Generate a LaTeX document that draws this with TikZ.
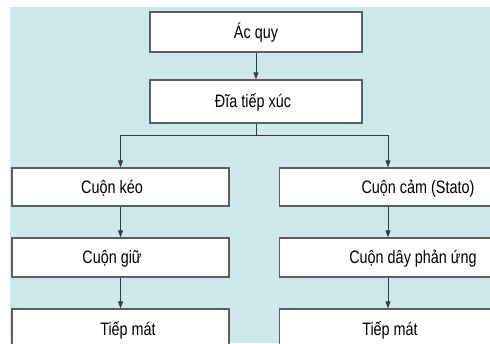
\documentclass[tikz,border=0pt]{standalone}
\usepackage{fontspec}
\setmainfont{Liberation Sans}[FakeStretch=0.8]
\usetikzlibrary{arrows.meta}

\definecolor{bgcyan}{HTML}{CDE9EC}
\definecolor{boxgray}{HTML}{5E5E5E}
\definecolor{linegray}{HTML}{3A3A3A}

\tikzset{
  box/.style={draw=boxgray,line width=1.3pt,fill=white,inner sep=0pt,minimum width=217pt},
  txt/.style={font=\fontsize{18}{20}\selectfont,text height=12.9pt,text depth=0pt,inner sep=0pt},
  arr/.style={draw=linegray,line width=0.9pt,-{Triangle[length=7pt,width=5pt]}}
}

\begin{document}
\begin{tikzpicture}[x=1pt,y=-1pt]
\clip (0,0) rectangle (490,343);
\fill[bgcyan] (10,7) rectangle (490,343);
% top
\node[box,minimum width=212pt,minimum height=40pt,label={[txt]center:Ác quy}] (acquy) at (256,32) {};
\node[box,minimum width=212pt,minimum height=43pt,label={[txt,xshift=-3pt]center:Đĩa tiếp xúc}] (dia) at (256,101.5) {};
% left column
\node[box,minimum height=38pt,label={[txt,xshift=-8.5pt]center:Cuộn kéo}] (keo) at (120.5,187) {};
\node[box,minimum height=39pt,label={[txt,xshift=-8.5pt]center:Cuộn giữ}] (giu) at (120.5,257.5) {};
\node[box,minimum height=40pt,label={[txt,xshift=7.5pt]center:Tiếp mát}] (matL) at (120.5,329) {};
% right column
\node[box,minimum height=38pt,label={[txt,xshift=30pt]center:Cuộn cảm (Stato)}] (cam) at (388,187) {};
\node[box,minimum height=39pt,label={[txt,xshift=25pt]center:Cuộn dây phản ứng}] (day) at (388,257.5) {};
\node[box,minimum height=40pt,label={[txt,xshift=2pt]center:Tiếp mát}] (matR) at (388,329) {};
% connectors
\coordinate (split) at (256,135);
\draw[arr] (acquy) -- (dia);
\draw[draw=linegray,line width=0.9pt] (dia.south) -- (split);
\draw[arr] (split) -| (keo.north);
\draw[arr] (split) -| (cam.north);
\draw[arr] (keo) -- (giu);
\draw[arr] (giu) -- (matL);
\draw[arr] (cam) -- (day);
\draw[arr] (day) -- (matR);
\end{tikzpicture}
\end{document}
